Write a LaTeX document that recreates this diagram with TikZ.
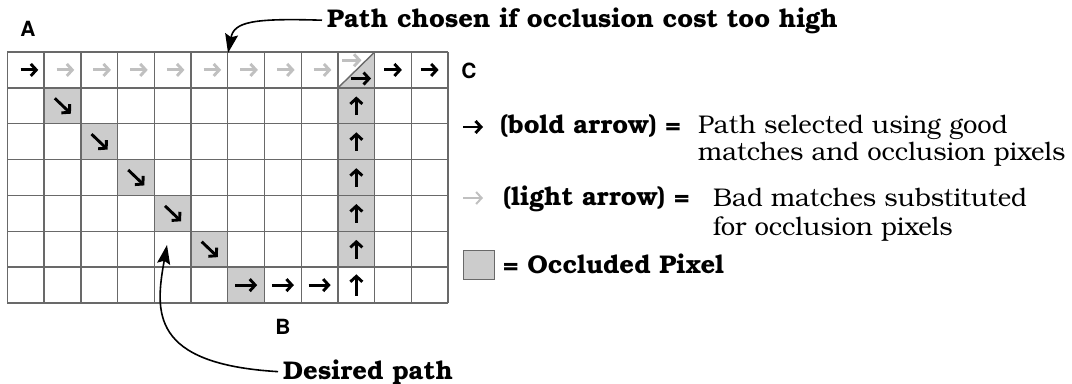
\documentclass[tikz,border=0pt]{standalone}
\usepackage{fontspec}
\setmainfont{TeX Gyre Bonum}
\newfontfamily\labfont{TeX Gyre Heros}
\usetikzlibrary{arrows.meta}
\definecolor{occ}{RGB}{204,204,204}
\definecolor{lightarr}{RGB}{192,192,192}
\definecolor{gridc}{RGB}{105,105,105}
\begin{document}
\begin{tikzpicture}[x=1bp,y=-1bp,
  gridline/.style={draw=gridc,line width=1.4bp},
  boldarr/.style={line width=2.9bp,-{Straight Barb[length=5.5bp,width=12bp]}},
  lightarr/.style={boldarr,draw=lightarr},
  callout/.style={line width=1.6bp,-{Stealth[length=19bp,width=13bp,inset=3bp]}},
  sanslab/.style={font=\labfont\bfseries\fontsize{21}{24}\selectfont,inner sep=0pt},
  boldtxt/.style={font=\bfseries\fontsize{25.7}{28}\selectfont,inner sep=0pt},
  regtxt/.style={font=\fontsize{25.7}{28}\selectfont,inner sep=0pt},
]
\path[use as bounding box] (0,0) rectangle (1072,383);
\begin{scope}[shift={(7.4,52)},x=36.73bp,y=-35.86bp]
  % occluded cells
  \foreach \c in {1,...,6} \fill[occ] (\c,\c) rectangle ++(1,1);
  \foreach \r in {1,...,5} \fill[occ] (9,\r) rectangle ++(1,1);
  \fill[occ] (9,1) -- (10,1) -- (10,0) -- cycle;
  \foreach \i in {0,...,12} \draw[gridline] (\i,0) -- (\i,7);
  \foreach \j in {0,...,7} \draw[gridline] (0,\j) -- (12,\j);
  \draw[gridline] (9,1) -- (10,0);
  % top row
  \draw[boldarr] (0.36,0.5) -- (0.84,0.5);
  \foreach \c in {1,...,8} \draw[lightarr] ({\c+0.34},0.5) -- ({\c+0.82},0.5);
  \draw[lightarr] (9.12,0.23) -- (9.64,0.23);
  \draw[boldarr] (9.35,0.74) -- (9.9,0.74);
  \foreach \c in {10,11} \draw[boldarr] ({\c+0.26},0.5) -- ({\c+0.74},0.5);
  % diagonal
  \foreach \c in {1,...,5} \draw[boldarr] ({\c+0.29},{\c+0.29}) -- ({\c+0.73},{\c+0.72});
  % up arrows in column 10
  \foreach \r in {1,...,5} \draw[boldarr] (9.5,{\r+0.76}) -- (9.5,{\r+0.24});
  \draw[boldarr] (9.5,6.8) -- (9.5,6.2);
  % bottom row
  \foreach \c in {6,7,8} \draw[boldarr] ({\c+0.2},6.5) -- ({\c+0.8},6.5);
\end{scope}
% labels A B C
\node[sanslab] (A) at (28,29) {A};
\node[sanslab] (C) at (469,71) {C};
\node[sanslab] (B) at (283,327) {B};
% callouts
\node[boldtxt,anchor=base west] (pc) at (327,27) {Path chosen if occlusion cost too high};
\coordinate (pctip) at (228,53);
\draw[callout,shorten <=5bp] (pc.west) .. controls (252,18) and (234,22) .. (pctip);
\node[boldtxt,anchor=base west] (dp) at (283,379) {Desired path};
\coordinate (dptip) at (167,245);
\draw[callout,shorten <=5bp] (dp.west) .. controls (150,364) and (155,312) .. (dptip);
% legend
\draw[boldarr] (463,127) -- (483,127);
\node[boldtxt,anchor=base west] (l1a) at (500,133) {(bold arrow) =};
\node[regtxt,anchor=base west] (l1b) at (698,133) {Path selected using good};
\node[regtxt,anchor=base west] (l1c) at (698,160) {matches and occlusion pixels};
\draw[lightarr,line width=2bp] (463,198) -- (483,198);
\node[boldtxt,anchor=base west] (l2a) at (503,205) {(light arrow) =};
\node[regtxt,anchor=base west] (l2b) at (713,206) {Bad matches substituted};
\node[regtxt,anchor=base west] (l2c) at (713,235) {for occlusion pixels};
\node[draw=gridc,fill=occ,line width=1.5bp,minimum width=31bp,minimum height=29bp,inner sep=0pt] (sq) at (479,265) {};
\node[boldtxt,anchor=base west] (l3) at (503,273) {= Occluded Pixel};
\end{tikzpicture}
\end{document}
